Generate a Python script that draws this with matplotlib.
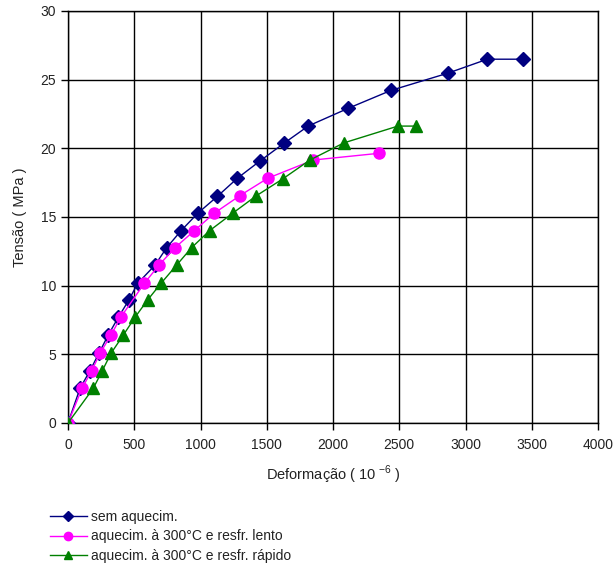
import matplotlib
matplotlib.use("Agg")
import matplotlib.pyplot as plt

plt.rcParams['font.family'] = ['Liberation Sans', 'DejaVu Sans']

# Data
sem_x = [0, 91, 166, 234, 304, 380, 460, 526, 657, 745, 853, 979, 1127, 1278, 1449, 1630, 1814, 2116, 2438, 2866, 3165, 3432]
sem_y = [0, 2.53, 3.81, 5.09, 6.41, 7.70, 8.96, 10.17, 11.5, 12.77, 14.0, 15.27, 16.50, 17.82, 19.08, 20.37, 21.63, 22.92, 24.22, 25.47, 26.49, 26.49]

lento_x = [0, 108, 179, 242, 325, 398, 576, 687, 808, 953, 1103, 1298, 1507, 1852, 2349]
lento_y = [0, 2.57, 3.81, 5.08, 6.41, 7.70, 10.17, 11.5, 12.77, 14.0, 15.27, 16.56, 17.82, 19.15, 19.64]

rapido_x = [0, 191, 259, 325, 418, 506, 601, 702, 820, 933, 1068, 1242, 1419, 1620, 1826, 2083, 2490, 2626]
rapido_y = [0, 2.53, 3.81, 5.08, 6.41, 7.70, 8.96, 10.17, 11.5, 12.77, 14.0, 15.27, 16.53, 17.77, 19.15, 20.4, 21.62, 21.62]

labels = ["sem aquecim.",
          "aquecim. à 300°C e resfr. lento",
          "aquecim. à 300°C e resfr. rápido"]

fig = plt.figure(figsize=(6.16, 5.66), dpi=100)
ax = fig.add_axes([68/616, 143/566, 530/616, 412/566])

l1, = ax.plot(sem_x, sem_y, color='#000080', lw=1, marker='D', ms=7,
              mfc='#000080', mec='#000080', zorder=3)
l2, = ax.plot(lento_x, lento_y, color='#FF00FF', lw=1, marker='o', ms=8,
              mfc='#FF00FF', mec='#FF00FF', zorder=4)
l3, = ax.plot(rapido_x, rapido_y, color='#008000', lw=1, marker='^', ms=8,
              mfc='#008000', mec='#008000', zorder=5)

ax.set_xlim(0, 4000)
ax.set_ylim(0, 30)
ax.set_xticks(range(0, 4001, 500))
ax.set_yticks(range(0, 31, 5))
ax.grid(True, color='black', lw=1)
ax.set_axisbelow(True)
for s in ax.spines.values():
    s.set_color('black')
    s.set_linewidth(1)
ax.tick_params(axis='both', direction='out', length=5, width=1, colors='black',
               labelsize=10, labelcolor='#222222')
ax.tick_params(axis='x', pad=6)

ax.set_xlabel(r"Deformação ( 10$^{\ \mathregular{-6}}$ )", fontsize=10.5, color='#222222', labelpad=8)
ax.set_ylabel("Tensão ( MPa )", fontsize=10.5, color='#222222', labelpad=10)

fig.legend([l1, l2, l3], labels, loc='upper left', bbox_to_anchor=(44/616, 1 - 504/566),
           frameon=False, fontsize=10, handlelength=2.7, handletextpad=0.3,
           labelspacing=0.42, borderaxespad=0, labelcolor='#222222',
           markerscale=0.75)

fig.savefig("out.png", dpi=100, facecolor='white')
